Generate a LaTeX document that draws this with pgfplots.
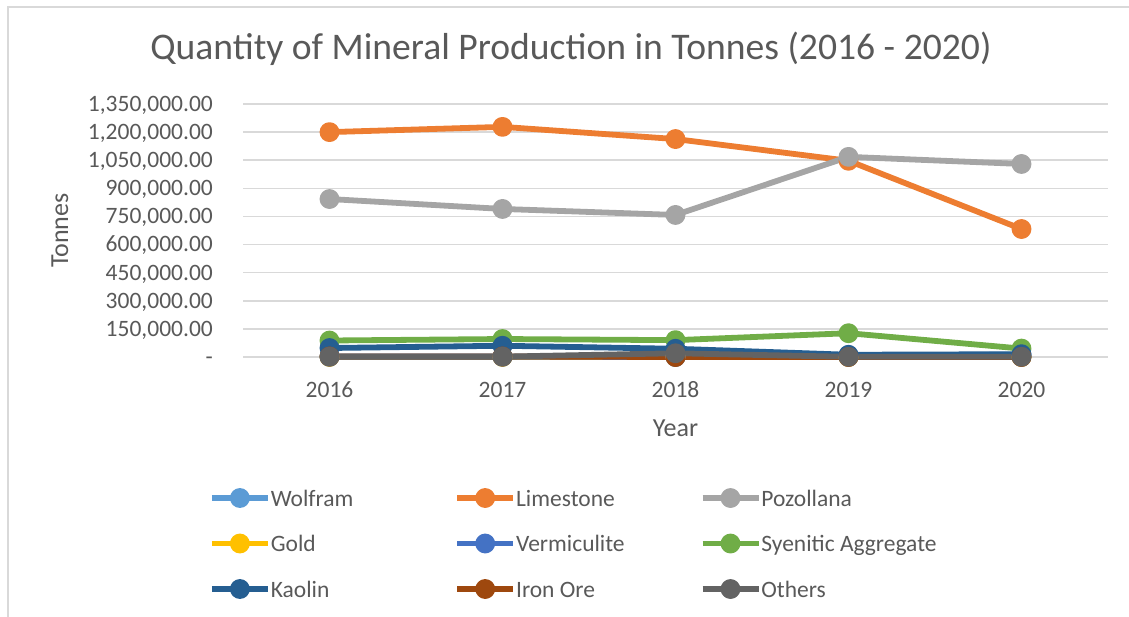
\documentclass[border=0pt]{standalone}
\usepackage{pgfplots}
\pgfplotsset{compat=1.18}
\usepackage{fontspec}
\setmainfont{Carlito}
\definecolor{txtgray}{HTML}{595959}
\definecolor{gridgray}{HTML}{D9D9D9}
\definecolor{cWolfram}{HTML}{5B9BD5}
\definecolor{cLime}{HTML}{ED7D31}
\definecolor{cPoz}{HTML}{A5A5A5}
\definecolor{cGold}{HTML}{FFC000}
\definecolor{cVerm}{HTML}{4472C4}
\definecolor{cSyen}{HTML}{70AD47}
\definecolor{cKaol}{HTML}{255E91}
\definecolor{cIron}{HTML}{9E480E}
\definecolor{cOther}{HTML}{636363}
\newcommand{\tickfont}{\fontsize{23.5bp}{28bp}\selectfont}
\newcommand{\labfont}{\fontsize{26bp}{31bp}\selectfont}
\newcommand{\titfont}{\fontsize{37.6bp}{45bp}\selectfont}
\newcommand{\legtext}[1]{\makebox[183.5bp][l]{#1}}
\begin{document}
\begin{tikzpicture}
\useasboundingbox (0,0) rectangle (1129bp,-617bp);
\draw[gridgray, line width=2bp] (8bp,-617bp) -- (8bp,-6.5bp) -- (1129bp,-6.5bp);
\begin{axis}[
  scale only axis, width=865bp, height=253bp,
  at={(243bp,-357bp)}, anchor=south west,
  xmin=-0.5, xmax=4.5, ymin=0, ymax=1350000,
  clip=false,
  axis line style={draw=none}, major tick length=0pt,
  scaled y ticks=false,
  xtick={0,1,2,3,4}, xticklabels={2016,2017,2018,2019,2020},
  ytick={0,150000,300000,450000,600000,750000,900000,1050000,1200000,1350000},
  yticklabels={{-\hspace{10bp}},{150,000.00},{300,000.00},{450,000.00},{600,000.00},{750,000.00},{900,000.00},{1,050,000.00},{1,200,000.00},{1,350,000.00}},
  ymajorgrids, grid style={line width=1.5bp, color=gridgray},
  xticklabel style={anchor=base, yshift=-40bp, inner sep=0pt, font=\tickfont, text=txtgray},
  yticklabel style={anchor=base east, yshift=-7.4bp, xshift=-30bp, inner sep=0pt, font=\tickfont, text=txtgray},
  title={Quantity of Mineral Production in Tonnes (2016 - 2020)},
  title style={at={(axis description cs:0.3792,1.152)}, anchor=base, inner sep=0pt, font=\titfont, text=txtgray},
  xlabel={Year}, ylabel={Tonnes},
  every axis x label/.style={at={(axis description cs:0.5,-0.3123)}, anchor=base, inner sep=0pt, font=\labfont, text=txtgray},
  every axis y label/.style={at={(axis description cs:-0.2116,0.5)}, rotate=90, anchor=center, inner sep=0pt, font=\labfont, text=txtgray},
  every axis plot/.append style={line width=5.8bp, line join=round, mark=*, mark size=7bp, mark options={solid}},
  legend image code/.code={\draw[#1, mark repeat=2, mark phase=2] plot coordinates {(0bp,8bp) (28bp,8bp) (56bp,8bp)};},
  legend cell align=left,
  legend columns=3,
  legend style={at={(axis description cs:-0.0393,-0.5257)}, anchor=north west, draw=none, fill=none,
    inner sep=0pt, outer sep=0pt, row sep=24.5bp, column sep=0pt,
    nodes={inner sep=0pt, text height=16bp, text depth=5bp, anchor=base west, font=\tickfont, text=txtgray},
    /tikz/every even column/.append style={column sep=0pt},
    /tikz/every odd column/.append style={column sep=0pt}},
]
\addplot[color=cWolfram, mark options={fill=cWolfram}] coordinates {(0,1000) (1,1000) (2,1000) (3,1000) (4,1000)};
\addlegendentry{\legtext{Wolfram}}
\addplot[color=cLime, mark options={fill=cLime}] coordinates {(0,1200000) (1,1228000) (2,1163000) (3,1047000) (4,683000)};
\addlegendentry{\legtext{Limestone}}
\addplot[color=cPoz, mark options={fill=cPoz}] coordinates {(0,843000) (1,790000) (2,758000) (3,1068000) (4,1030000)};
\addlegendentry{\legtext{Pozollana}}
\addplot[color=cGold, mark options={fill=cGold}] coordinates {(0,500) (1,500) (2,500) (3,500) (4,500)};
\addlegendentry{\legtext{Gold}}
\addplot[color=cVerm, mark options={fill=cVerm}] coordinates {(0,2000) (1,2000) (2,0) (3,8000) (4,12000)};
\addlegendentry{\legtext{Vermiculite}}
\addplot[color=cSyen, mark options={fill=cSyen}] coordinates {(0,88000) (1,96000) (2,90000) (3,127000) (4,45000)};
\addlegendentry{\legtext{Syenitic Aggregate}}
\addplot[color=cKaol, mark options={fill=cKaol}] coordinates {(0,48000) (1,60000) (2,44000) (3,12000) (4,15000)};
\addlegendentry{\legtext{Kaolin}}
\addplot[color=cIron, mark options={fill=cIron}] coordinates {(0,3000) (1,3000) (2,0) (3,0) (4,0)};
\addlegendentry{\legtext{Iron Ore}}
\addplot[color=cOther, mark options={fill=cOther}] coordinates {(0,2000) (1,2000) (2,20000) (3,1000) (4,1000)};
\addlegendentry{\legtext{Others}}
\end{axis}
\end{tikzpicture}
\end{document}
